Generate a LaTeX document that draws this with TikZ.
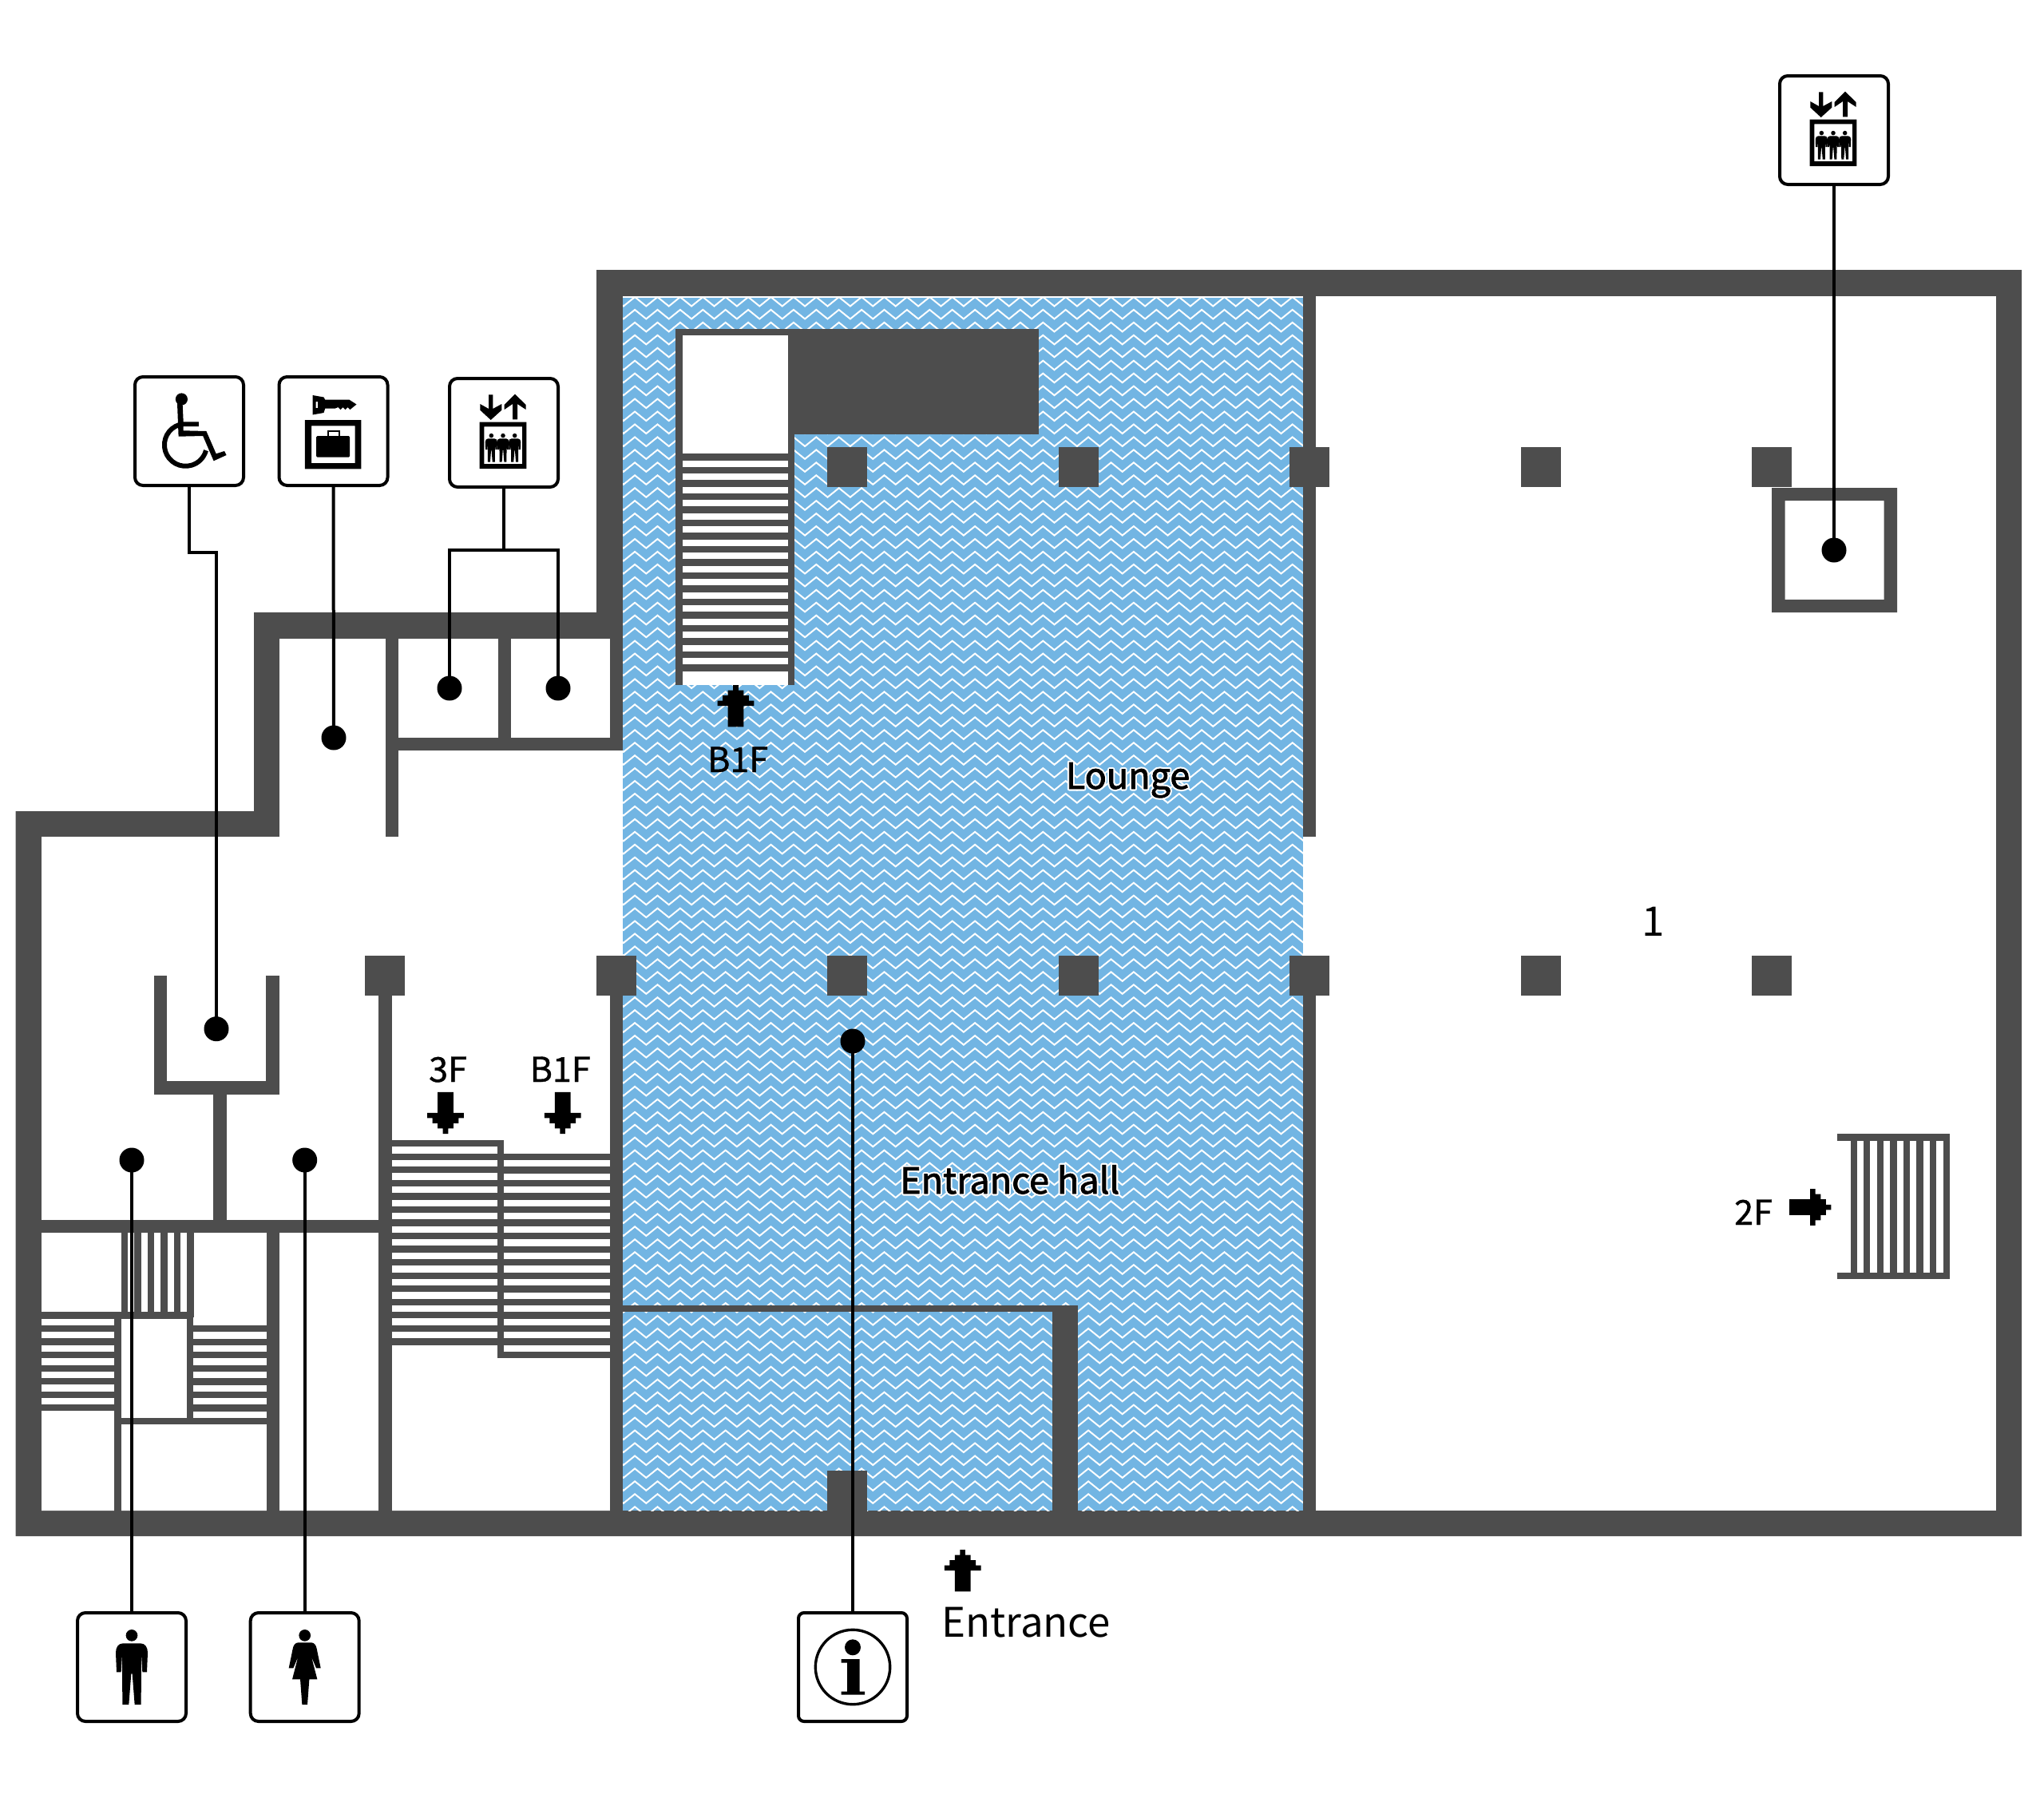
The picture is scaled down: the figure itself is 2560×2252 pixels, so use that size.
\documentclass[tikz,border=0pt]{standalone}
\usepackage{fontspec}
\setmainfont{Noto Sans CJK JP}
\definecolor{wallc}{HTML}{4D4D4D}
\definecolor{bluec}{HTML}{72B5E3}
\newcommand{\wall}[4]{\fill[wallc] (#1,#2) rectangle (#3,#4);}
\newcommand{\halotext}[1]{\special{pdf:code 1 j 1 Tr 5 w 1 1 1 RG}#1\special{pdf:code 0 Tr 0 0 0 RG}}
\tikzset{
  iconbox/.style={draw=black,line width=4pt,rounded corners=10pt,minimum size=136pt,inner sep=0pt,fill=white},
  infobox/.style={iconbox,rounded corners=7pt},
  mapdot/.style={circle,fill=black,minimum size=31pt,inner sep=0pt},
  conn/.style={draw=black,line width=4pt},
  lab/.style={anchor=base west,inner sep=0pt,text=black},
  lab52/.style={lab,font=\fontsize{51}{60}\selectfont},
  lab43/.style={lab,font=\fontsize{43}{50}\selectfont\addfontfeature{FakeBold=1}},
  lab46/.style={lab,font=\fontsize{45}{54}\selectfont},
  lab46b/.style={lab46,font=\fontsize{45}{54}\selectfont\addfontfeature{FakeBold=2}},
  blockarrow/.pic={
    \fill[black,x=6.53pt,y=-6.53pt]
      (-.5,0)--(.5,0)--(.5,1)--(1.5,1)--(1.5,2)--(2.5,2)--(2.5,3)--(3.5,3)--(3.5,4)--(1.5,4)--(1.5,8)
      --(-1.5,8)--(-1.5,4)--(-3.5,4)--(-3.5,3)--(-2.5,3)--(-2.5,2)--(-1.5,2)--(-1.5,1)--(-.5,1)--cycle;
  },
  picman/.pic={
    \fill[black,scale=1/3] (0,-119) circle (22);
    \fill[black,scale=1/3] (-33,-89) -- (33,-89) .. controls (50,-89) and (60,-75) .. (60,-54) -- (57,19) -- (40,19) -- (36,-48) -- (35,141) -- (11,141) -- (2,25) -- (-2,25) -- (-11,141) -- (-35,141) -- (-36,-48) -- (-40,19) -- (-57,19) -- (-60,-54) .. controls (-60,-75) and (-50,-89) .. (-33,-89) -- cycle;
  },
  picwoman/.pic={
    \fill[black,scale=1/3] (0,-119) circle (22);
    \fill[black,scale=1/3] (-25,-92) -- (25,-92) .. controls (35,-92) and (43,-82) .. (45,-69) -- (60,4) -- (43,4) -- (25,-39) -- (47,46) -- (17,46) -- (10,141) -- (-10,141) -- (-17,46) -- (-47,46) -- (-25,-39) -- (-43,4) -- (-60,4) -- (-45,-69) .. controls (-43,-82) and (-35,-92) .. (-25,-92) -- cycle;
  },
  picelev/.pic={
    \fill[black,scale=1/3] (-57,-143)--(-41,-143)--(-41,-90)--(-8,-108)--(-8,-85)--(-49,-48)--(-89,-85)--(-89,-108)--(-57,-90)--cycle;
    \fill[black,scale=1/3] (42,-145)--(83,-105)--(83,-87)--(51,-108)--(51,-50)--(33,-50)--(33,-108)--(2,-87)--(2,-105)--cycle;
    \fill[black,scale=1/3,even odd rule] (-91,-40) rectangle (85,135) (-74,-23) rectangle (69,117);
    \pic[scale=.38] at ({-47/3},{56/3}) {picman};
    \pic[scale=.38] at ({-3/3},{56/3}) {picman};
    \pic[scale=.38] at ({41/3},{56/3}) {picman};
  },
  picchair/.pic={
    \fill[black] (-9.6,-40) circle (7.6);
    \fill[black] (-15,-35)--(-8.4,-35)--(-7.3,-11.7)--(11.8,-11.7)--(11.8,-6)--(-7.3,-6)--(-7.3,-.7)--(21.4,0)--(33.7,28.3)--(44,25)--(46.6,30)--(30.6,37.3)--(17.2,6)--(-13.4,6.7)--cycle;
    \draw[black,line width=6pt] (-4.6,17.3) ++(253:26.5) arc[start angle=253,end angle=15,radius=26.5];
  },
  pickey/.pic={
    \fill[black,even odd rule] (-26,-45)--(-12,-42.5)--(-10.3,-39.3)--(20,-39.3)--(29,-33.5)--(24,-29.5)--(21,-27)--(18,-30)--(15,-27)--(12,-30)--(9,-27)--(6,-30)--(2,-28.3)--(-10.3,-28.3)--(-12,-23)--(-26,-20.5)--cycle
      (-22,-37) rectangle (-19.5,-29);
    \fill[black,even odd rule] (-35.6,-14) rectangle (34.8,47.3) (-27.5,-6.7) rectangle (27.2,40);
    \fill[black,rounded corners=1.5pt] (-21.4,6) rectangle (20.7,32.7);
    \draw[black,line width=2pt] (-7,6) -- (-7,.2) -- (7.5,.2) -- (7.5,6);
  },
  picinfo/.pic={
    \draw[black,line width=3.4pt] (0,0) circle (46.7);
    \fill[black] (0,-24.7) circle (10);
    \fill[black] (-14.3,-10)--(8.7,-10)--(8.7,30.7)--(15,30.7)--(15,34.7)--(-14.3,34.7)--(-14.3,30.7)--(-7,30.7)--(-7,-5.3)--(-14.3,-5.3)--cycle;
  }
}
\begin{document}
\begin{tikzpicture}[x=1pt,y=-1pt]
\useasboundingbox (0,0) rectangle (2560,2252);
\fill[white] (0,0) rectangle (2560,2252);

% outer walls, then the rooms cut out of them
\fill[wallc] (19.6,1016) -- (318,1016) -- (318,767) -- (747,767) -- (747,338) -- (2532,338) -- (2532,1924) -- (19.6,1924) -- cycle;
\fill[white] (52,1048) -- (350,1048) -- (350,800) -- (780,800) -- (780,1892) -- (52,1892) -- cycle;
\fill[white] (1632,371) rectangle (2500,1892);

% patterned floor
\fill[white] (780,371) rectangle (1632,1892);
\fill[bluec] (780,372.5) rectangle (1632,1892);
\begin{scope}
\clip (780,372) rectangle (1632,1892);
\foreach \k in {0,...,95}{
  \draw[white,line width=2pt,line join=miter]
    (766.6,{372+15.95*\k})
    \foreach \m in {0,...,30}{ -- ({780.9+28.4*\m},{383.5+15.95*\k}) -- ({795.1+28.4*\m},{372+15.95*\k}) };
}
\end{scope}

% interior walls
\wall{764}{800}{780}{940}
\wall{764}{1222}{780}{1895}
\wall{1631.7}{371}{1648.3}{1048}
\wall{1631.7}{1222}{1648.3}{1895}
\wall{482.7}{800}{499}{1048}
\wall{482.7}{924}{780}{940}
\wall{623.7}{800}{640}{940}
\wall{474.3}{1222}{490.7}{1895}
\wall{52}{1528}{490.7}{1544}
\wall{334}{1528}{350}{1895}
\wall{267.3}{1360}{284}{1528}
\wall{192.7}{1222}{209.3}{1370.7}
\wall{333.3}{1222}{350}{1370.7}
\wall{192.7}{1354}{350}{1370.7}
\wall{780}{1635}{1350}{1643.3}
\wall{1317.7}{1635}{1350}{1895}

% columns
\foreach \cx in {1061,1350.5,1640,1929.5,2219}{ \wall{\cx-25}{560}{\cx+25}{610} }
\foreach \cx in {482,771.5,1061,1350.5,1640,1929.5,2219}{ \wall{\cx-25}{1197}{\cx+25}{1247} }
\wall{1036}{1842}{1086}{1895}

% elevator shaft, upper right
\fill[wallc,even odd rule] (2219,611) rectangle (2376,767) (2235.5,627) rectangle (2359.5,751);

% lounge stairs and block
\fill[white] (854.5,420) rectangle (986.7,858);
\wall{846}{412}{1301}{420}
\wall{987}{412}{1301}{544}
\wall{846}{412}{854.5}{858}
\wall{986.7}{412}{995}{858}
\foreach \n in {0,...,16}{ \wall{846}{568.3+16.5*\n}{995}{576.6+16.5*\n} }

% 3F and B1F stairs
\foreach \n in {0,...,15}{ \wall{490.7}{1428+16.55*\n}{631}{1436.3+16.55*\n} }
\foreach \n in {0,...,15}{ \wall{622.7}{1444.7+16.55*\n}{764}{1453+16.55*\n} }
\wall{622.7}{1428}{631}{1701.3}

% toilet stairs
\foreach \n in {0,...,5}{ \wall{151.7+16.55*\n}{1544}{160+16.55*\n}{1650} }
\foreach \n in {0,...,7}{ \wall{52}{1643.3+16.55*\n}{143.3}{1651.6+16.55*\n} }
\wall{52}{1643.3}{242.3}{1651.6}
\wall{143.3}{1643.3}{151.7}{1895}
\wall{234.3}{1544}{242.3}{1784}
\foreach \n in {0,...,7}{ \wall{242}{1660+16.55*\n}{334}{1668.3+16.55*\n} }
\wall{143.3}{1775.7}{334}{1784}

% 2F stairs
\wall{2301}{1420}{2442}{1428.5}
\wall{2301}{1593.5}{2442}{1602}
\foreach \n in {0,...,7}{ \wall{2317.7+16.55*\n}{1420}{2325.9+16.55*\n}{1602} }

% arrows
\pic at (921.5,858) {blockarrow};
\pic[rotate=180] at (558,1420) {blockarrow};
\pic[rotate=180] at (704.7,1420) {blockarrow};
\pic[rotate=-90] at (2293.3,1512) {blockarrow};
\pic at (1205.7,1941) {blockarrow};

% points
\node[mapdot] (dchair) at (271,1288.7) {};
\node[mapdot] (dkey) at (418,924) {};
\node[mapdot] (dele1) at (563,862) {};
\node[mapdot] (dele2) at (699,862) {};
\node[mapdot] (dman) at (165,1453) {};
\node[mapdot] (dwoman) at (381.7,1453) {};
\node[mapdot] (dinfo) at (1068,1304) {};
\node[mapdot] (dele3) at (2297,689) {};

% icon boxes
\node[iconbox] (bchair) at (237,540) {};
\node[iconbox] (bkey) at (417.5,540) {};
\node[iconbox] (bele) at (631,542) {};
\node[iconbox] (bele2) at (2297,163) {};
\node[iconbox] (bman) at (165,2088) {};
\node[iconbox] (bwoman) at (381.7,2088) {};
\node[infobox] (binfo) at (1068,2088) {};

% connectors
\coordinate (kchair) at (271,692);
\coordinate (kele) at (631,689);
\draw[conn] (bchair.south) |- (kchair) -- (dchair.center);
\draw[conn] (bkey.south) -- (dkey.center);
\draw[conn] (bele.south) -- (kele);
\draw[conn] (dele1.center) |- (kele) -| (dele2.center);
\draw[conn] (bele2.south) -- (dele3.center);
\draw[conn] (bman.north) -- (dman.center);
\draw[conn] (bwoman.north) -- (dwoman.center);
\draw[conn] (binfo.north) -- (dinfo.center);

% icons
\pic at (bchair.center) {picchair};
\pic at (bkey.center) {pickey};
\pic at (bele.center) {picelev};
\pic at (bele2.center) {picelev};
\pic at (bman.center) {picman};
\pic at (bwoman.center) {picwoman};
\pic at (binfo.center) {picinfo};

% labels
\node[lab52] (tentr) at (1179,2050) {Entrance};
\node[lab52] (tone) at (2056,1172) {1};
\node[lab43] (t3f) at (537,1355) {3F};
\node[lab43] (tb1a) at (663.5,1355) {B1F};
\node[lab43] (tb1b) at (886,967) {B1F};
\node[lab43] (t2f) at (2172,1534) {2F};
\node[lab46] (hlounge) at (1334.5,988) {\halotext{Lounge}};
\node[lab46] (hhall) at (1127,1495) {\halotext{Entrance hall}};
\node[lab46b] (tlounge) at (1334.5,988) {Lounge};
\node[lab46b] (thall) at (1127,1495) {Entrance hall};
\end{tikzpicture}
\end{document}
